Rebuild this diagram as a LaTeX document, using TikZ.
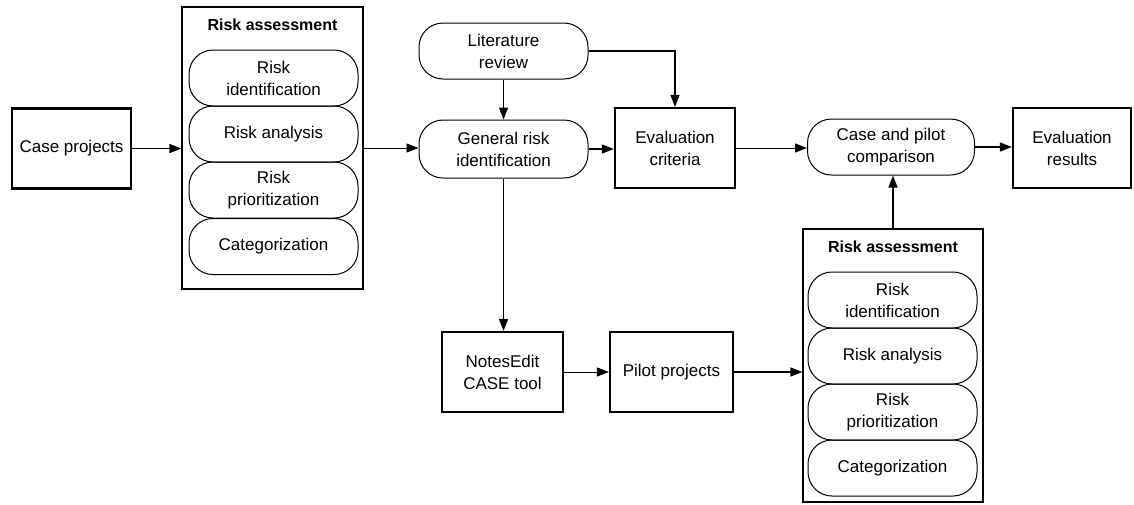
\documentclass[tikz,border=0pt]{standalone}
\usepackage{fontspec}
\setmainfont{Liberation Sans}
\usetikzlibrary{arrows.meta}
\begin{document}
\begin{tikzpicture}[x=1pt,y=-1pt,
  every node/.style={font=\fontsize{17}{22}\selectfont, align=center, inner sep=0pt},
  rectbox/.style={draw, line width=2.2pt, minimum height=80pt},
  pill/.style={draw, line width=1pt, rounded corners=24pt, minimum width=169pt, minimum height=56pt},
  groupbox/.style={draw, line width=1.2pt},
  grouptitle/.style={font=\bfseries\fontsize{16}{21}\selectfont},
  link/.style={line width=1.4pt, -{Triangle[length=12pt,width=9pt]}},
  thinlink/.style={link, line width=0.9pt}]
\useasboundingbox (0,0) rectangle (1134,504);

% input cases
\node[rectbox, minimum width=119pt] (case) at (71.5,148.5) {Case projects};

% first risk assessment group
\node[groupbox, minimum width=181pt, minimum height=282pt] (ra1) at (272.5,148) {};
\node[grouptitle] (ra1t) at (272.5,25) {Risk assessment};
\node[pill] (ra1a) at (273.5,78) {Risk\\identification};
\node[pill] (ra1b) at (273.5,134) {Risk analysis};
\node[pill] (ra1c) at (273.5,190) {Risk\\prioritization};
\node[pill] (ra1d) at (273.5,246.5) {Categorization};

% central column
\node[pill] (lit) at (503.5,51) {Literature\\review};
\node[pill, minimum height=58pt] (gen) at (503.5,149) {General risk\\identification};
\node[rectbox, minimum width=121pt] (tool) at (502.5,372) {NotesEdit\\CASE tool};
\node[rectbox, minimum width=123pt] (pilot) at (671.5,372) {Pilot projects};
\node[rectbox, minimum width=120pt] (crit) at (675,148) {Evaluation\\criteria};

% comparison and results
\node[pill, minimum width=167pt] (cmp) at (891,147) {Case and pilot\\comparison};
\node[rectbox, minimum width=118pt] (res) at (1072,148) {Evaluation\\results};

% second risk assessment group
\node[groupbox, minimum width=180pt, minimum height=273pt] (ra2) at (893,365.5) {};
\node[grouptitle] (ra2t) at (893,247) {Risk assessment};
\node[pill] (ra2a) at (892.5,300) {Risk\\identification};
\node[pill] (ra2b) at (892.5,356) {Risk analysis};
\node[pill] (ra2c) at (892.5,412) {Risk\\prioritization};
\node[pill] (ra2d) at (892.5,468) {Categorization};

% connectors
\draw[link] (case.east) -- (case.east -| ra1.west);
\draw[thinlink] (ra1.east) -- (ra1.east -| gen.west);
\draw[link] (lit) -- (gen);
\draw[link] (lit.east) -| (crit.north);
\draw[link] (gen.east) -- (gen.east -| crit.west);
\draw[thinlink] (crit.east) -- (crit.east -| cmp.west);
\draw[link] (cmp.east) -- (cmp.east -| res.west);
\draw[link] (gen.south) -- (gen.south |- tool.north);
\draw[thinlink] (tool.east) -- (tool.east -| pilot.west);
\draw[link] (pilot.east) -- (pilot.east -| ra2.west);
\draw[link] (ra2.north) -- (ra2.north |- cmp.south);
\end{tikzpicture}
\end{document}
